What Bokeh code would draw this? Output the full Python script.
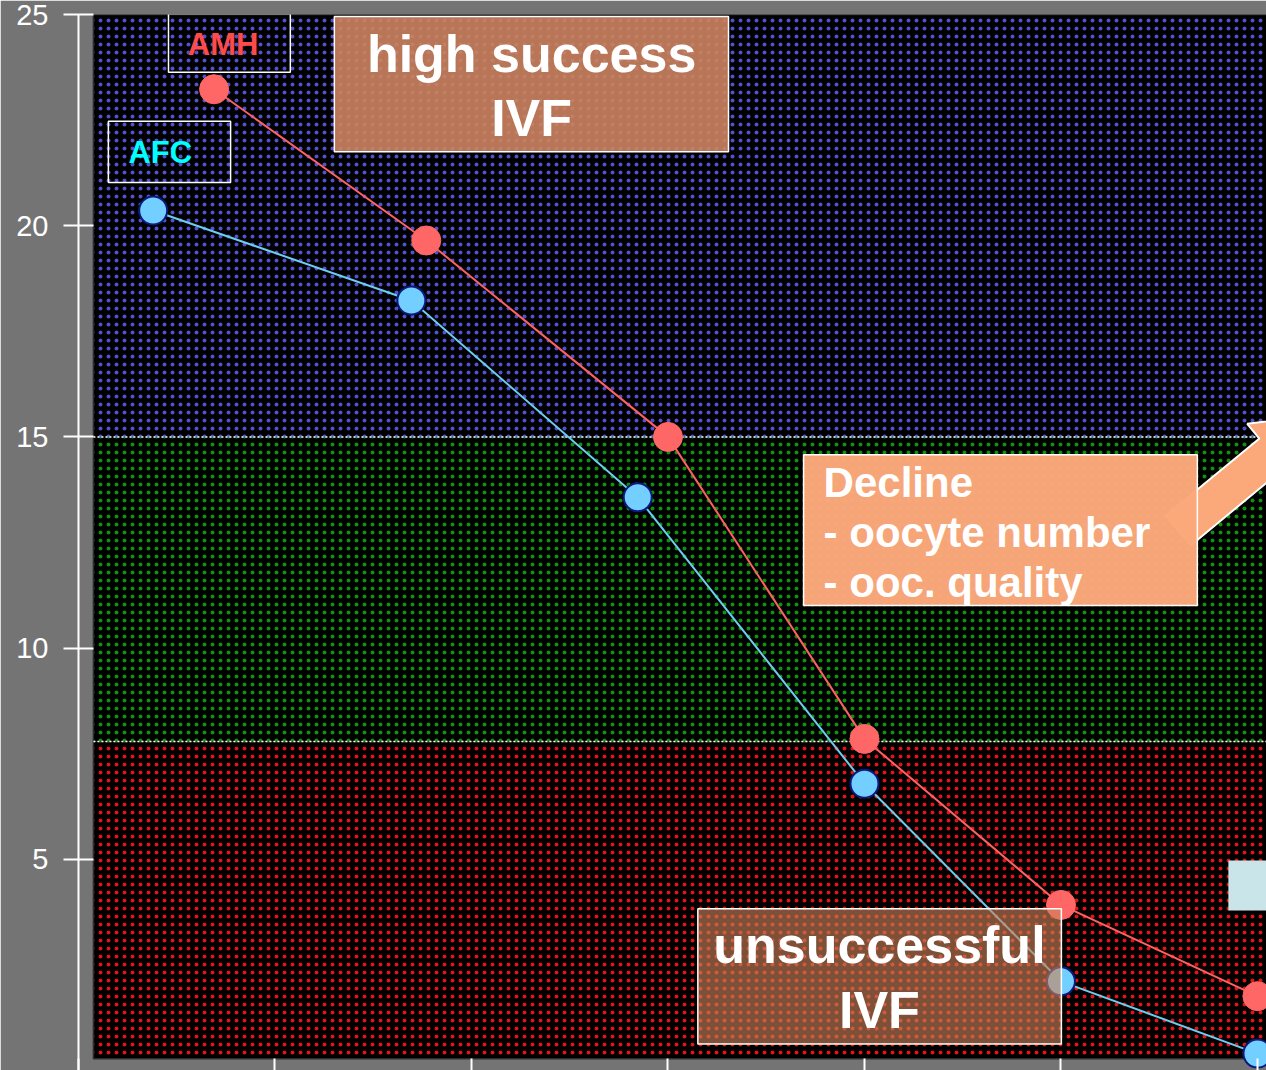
from bokeh.plotting import figure
from bokeh.models import Range1d, LinearAxis, FixedTicker
from bokeh.core.properties import value
from bokeh.embed import file_html
from bokeh.resources import INLINE

# --- data -------------------------------------------------------------
amh_age = [23.45, 28.85, 35.0, 40.0, 45.0, 50.0]
amh_values = [23.23, 19.65, 15.0, 7.85, 3.92, 1.76]

afc_age = [21.9, 28.47, 34.23, 40.0, 45.0, 50.0]
afc_values = [20.36, 18.23, 13.57, 6.79, 2.11, 0.40]

y_ticks = [5, 10, 15, 20, 25]
x_ticks = [20, 25, 30, 35, 40, 45, 50]

# zones: lower bound, upper bound, dot colour
zone_low = [0.28, 7.79, 15.0]
zone_high = [7.79, 15.0, 25.0]
zone_dots = ["#e01414", "#0c920c", "#5252d0"]

GRAY = "#747474"
FONT = value("Liberation Sans")

p = figure(width=1266, height=1070,
           x_range=Range1d(20, 50.23), y_range=Range1d(0, 25),
           output_backend="svg", toolbar_location=None,
           x_axis_type=None, y_axis_type=None,
           min_border_left=78, min_border_right=0,
           min_border_top=14, min_border_bottom=0)
p.background_fill_color = GRAY
p.border_fill_color = GRAY
p.outline_line_color = None
p.xgrid.visible = False
p.ygrid.visible = False

# --- axes -------------------------------------------------------------
yax = LinearAxis(ticker=FixedTicker(ticks=y_ticks))
yax.axis_line_color = "white"
yax.axis_line_width = 2
yax.major_tick_line_color = "white"
yax.major_tick_line_width = 2
yax.major_tick_in = 15
yax.major_tick_out = 15
yax.minor_tick_line_color = None
yax.major_label_text_color = "white"
yax.major_label_text_font = "Liberation Sans"
yax.major_label_text_font_size = "29px"
yax.major_label_standoff = 15
p.add_layout(yax, "left")

# bottom axis: ticks only, pointing into the plot
xax = LinearAxis(ticker=FixedTicker(ticks=x_ticks))
xax.axis_line_color = None
xax.major_tick_line_color = "white"
xax.major_tick_line_width = 2
xax.major_tick_in = 12
xax.major_tick_out = 0
xax.minor_tick_line_color = None
xax.major_label_overrides = {t: "" for t in x_ticks}
xax.major_label_standoff = 0
p.add_layout(xax, "below")

# --- dotted background zones -----------------------------------------
band_left, band_right = 20.38, 51.0
for lo, hi, dc in zip(zone_low, zone_high, zone_dots):
    p.quad(left=band_left, right=band_right, bottom=lo, top=hi,
           fill_color="black", line_color=None,
           hatch_pattern="dot", hatch_color=dc,
           hatch_scale=8, hatch_weight=1.0)
p.quad(left=band_left, right=band_right, bottom=zone_low[0], top=zone_high[-1],
       fill_color=None, line_color="#2c2c2c", line_width=1.5)

# dotted separators between zones
p.segment(x0=[band_left] * 2, x1=[band_right] * 2,
          y0=zone_high[:2], y1=zone_high[:2],
          line_color="white", line_width=1.5, line_dash="2 2")

# --- arrow pointing out of the "Decline" box -------------------------
p.patch(x=[47.67, 50.05, 49.74, 51.54, 50.98, 50.68, 48.30],
        y=[13.14, 14.96, 15.31, 15.51, 13.91, 14.26, 12.43],
        fill_color="#fba87a", line_color="white", line_width=2)

# --- callout boxes ----------------------------------------------------
p.quad(left=26.51, right=36.54, bottom=21.75, top=24.95,
       fill_color="#cc835f", fill_alpha=0.9,
       line_color="white", line_width=1.5)
p.text(x=[31.53, 31.53], y=[24.07, 22.54], text=["high success", "IVF"],
       text_color="white", text_font=FONT, text_font_style="bold",
       text_font_size="52px", text_align="center", text_baseline="middle")

p.quad(left=38.45, right=48.47, bottom=11.01, top=14.58,
       fill_color="#fba87a", fill_alpha=0.98,
       line_color="white", line_width=1.5)
p.text(x=[38.96] * 3, y=[13.93, 12.74, 11.55],
       text=["Decline", "- oocyte number", "- ooc. quality"],
       text_color="white", text_font=FONT, text_font_style="bold",
       text_font_size="42px", text_align="left", text_baseline="middle")

p.quad(left=49.26, right=50.4, bottom=3.79, top=4.97,
       fill_color="#c9e5e9", line_color=None)

# series labels
p.quad(left=[22.29, 20.76], right=[25.39, 23.87],
       bottom=[23.63, 21.02], top=[25.02, 22.47],
       fill_color=None, line_color="white", line_width=1.5)
p.text(x=[22.78], y=[24.30], text=["AMH"], text_color="#ff4a4a",
       text_font=FONT, text_font_style="bold", text_font_size="31px",
       text_align="left", text_baseline="middle")
p.text(x=[21.27], y=[21.74], text=["AFC"], text_color="#00ffff",
       text_font=FONT, text_font_style="bold", text_font_size="31px",
       text_align="left", text_baseline="middle")

# --- series -----------------------------------------------------------
p.line(amh_age, amh_values, line_color="#ff6060", line_width=2)
p.line(afc_age, afc_values, line_color="#6ccdf0", line_width=2)
p.scatter(amh_age, amh_values, size=29, fill_color="#ff6666", line_color="#ff6666",
          line_width=1)
p.scatter(afc_age, afc_values, size=28, fill_color="#73cfff", line_color="#0a1a80",
          line_width=2)

# --- "unsuccessful IVF" box drawn over the series --------------------
p.quad(left=35.76, right=45.01, bottom=0.63, top=3.83,
       fill_color="#c98258", fill_alpha=0.62,
       line_color="white", line_width=1.5)
p.text(x=[40.38, 40.38], y=[2.96, 1.43], text=["unsuccessful", "IVF"],
       text_color="white", text_font=FONT, text_font_style="bold",
       text_font_size="52px", text_align="center", text_baseline="middle")

open("out.html", "w").write(file_html(p, INLINE))
